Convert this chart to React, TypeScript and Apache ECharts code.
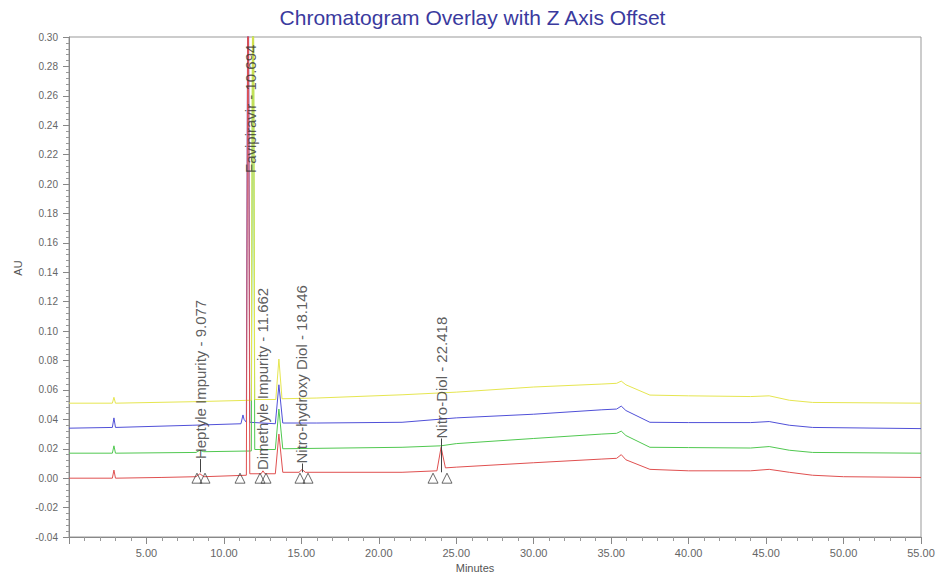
import React, { useEffect, useRef } from "react";
import * as echarts from "echarts";

const titleText = "Chromatogram Overlay with Z Axis Offset";

// [minutes, AU]
const redTrace: [number, number][] = [
  [0, 0.0], [2.8, 0.0], [2.9, 0.0055], [3.0, 0.0], [6.0, 0.0005], [8.2, 0.001], [8.45, 0.003], [8.7, 0.001],
  [11.45, 0.002], [11.56, 0.4], [11.67, 0.003], [12.4, 0.003], [12.52, 0.005], [12.65, 0.003],
  [13.32, 0.003], [13.55, 0.03], [13.8, 0.004], [14.85, 0.004], [15.05, 0.006], [15.25, 0.004],
  [21.5, 0.004], [23.75, 0.005], [24.02, 0.021], [24.3, 0.007], [25.0, 0.0075], [30.0, 0.0105],
  [34.4, 0.013], [35.35, 0.0135], [35.65, 0.016], [35.95, 0.0125], [37.5, 0.006], [40.0, 0.005],
  [44.0, 0.005], [45.2, 0.006], [46.5, 0.004], [48.0, 0.002], [50.0, 0.001], [55.0, 0.0005],
];
const greenTrace: [number, number][] = [
  [0, 0.017], [2.8, 0.017], [2.9, 0.022], [3.0, 0.017], [8.2, 0.0175], [8.45, 0.019], [8.7, 0.018],
  [11.77, 0.0185], [11.88, 0.42], [11.99, 0.0195], [13.32, 0.0195], [13.55, 0.047], [13.8, 0.02],
  [21.5, 0.021], [24.0, 0.022], [25.0, 0.0235], [30.0, 0.027], [34.4, 0.03], [35.35, 0.0305],
  [35.65, 0.032], [35.95, 0.029], [37.5, 0.021], [40.0, 0.0208], [44.0, 0.0205], [45.2, 0.0215],
  [46.5, 0.019], [48.0, 0.0175], [55.0, 0.017],
];
const blueTrace: [number, number][] = [
  [0, 0.034], [2.8, 0.0345], [2.9, 0.041], [3.0, 0.0345], [8.0, 0.036], [11.1, 0.037], [11.23, 0.043],
  [11.3, 0.04], [11.45, 0.038], [11.56, 0.43], [11.67, 0.038], [13.32, 0.037], [13.55, 0.0635],
  [13.8, 0.0375], [16.0, 0.0375], [21.5, 0.038], [25.0, 0.041], [30.0, 0.0435], [34.4, 0.0465],
  [35.35, 0.047], [35.65, 0.049], [35.95, 0.046], [37.5, 0.038], [40.0, 0.0378], [44.0, 0.0378],
  [45.2, 0.0385], [46.5, 0.036], [48.0, 0.0345], [55.0, 0.0337],
];
const yellowTrace: [number, number][] = [
  [0, 0.051], [2.8, 0.051], [2.9, 0.055], [3.0, 0.051], [8.0, 0.052], [11.77, 0.053], [11.88, 0.44],
  [11.99, 0.0535], [13.35, 0.0535], [13.55, 0.081], [13.75, 0.054], [16.0, 0.0545], [21.5, 0.0567],
  [25.0, 0.0585], [30.0, 0.062], [34.4, 0.064], [35.35, 0.0645], [35.65, 0.066], [35.95, 0.0635],
  [37.5, 0.0565], [40.0, 0.056], [44.0, 0.0555], [45.2, 0.056], [46.5, 0.053], [48.0, 0.0515],
  [55.0, 0.051],
];

const peakNames = [
  "Heptyle Impurity - 9.077",
  "Favipiravir - 10.694",
  "Dimethyle Impurity - 11.662",
  "Nitro-hydroxy Diol - 18.146",
  "Nitro-Diol - 22.418",
];
const peakLabelTimes = [8.46, 11.72, 12.52, 15.04, 24.02];
const peakLabelLevels = [0.013, 0.2075, 0.0055, 0.01, 0.027];
const connectorStart = 0.004;

const triangleTimes = [8.26, 8.78, 11.04, 12.33, 12.72, 14.91, 15.43, 23.5, 24.4];
const triangleLevel = 0.0;

const traceNames = ["blue", "green", "yellow", "red"];
const traceColors = ["#5050d8", "#50c850", "#e6e650", "#e05050"];

export default function App() {
  const ref = useRef<HTMLDivElement>(null);
  useEffect(() => {
    if (!ref.current) return;
    const chart = echarts.init(ref.current, undefined, { renderer: "svg" });
    const font = "Arial, 'Liberation Sans', sans-serif";
    const traces = [blueTrace, greenTrace, yellowTrace, redTrace];
    chart.setOption({
      animation: false,
      backgroundColor: "#ffffff",
      title: {
        text: titleText,
        left: "center",
        top: 2,
        textStyle: { fontFamily: font, fontSize: 21, fontWeight: "normal", color: "#3a3a9e" },
      },
      grid: {
        left: 69,
        right: 24,
        top: 37,
        bottom: 37,
        show: true,
        borderColor: "#999",
        borderWidth: 1,
        outerBoundsMode: "none",
        containLabel: false,
      },
      xAxis: {
        type: "value",
        min: 0,
        max: 55,
        interval: 5,
        name: "Minutes",
        nameLocation: "middle",
        nameGap: 20,
        nameTextStyle: { fontFamily: font, fontSize: 11, color: "#555", padding: [0, 40, 0, 0] },
        axisLine: { show: true, onZero: false, lineStyle: { color: "#888" } },
        axisTick: { show: true, length: 7, lineStyle: { color: "#888" } },
        minorTick: { show: true, splitNumber: 5, length: 4, lineStyle: { color: "#999" } },
        axisLabel: {
          fontFamily: font,
          fontSize: 11,
          color: "#666",
          margin: 10,
          formatter: (v: number) => (v === 0 ? "" : v.toFixed(2)),
        },
        splitLine: { show: false },
      },
      yAxis: {
        type: "value",
        min: -0.04,
        max: 0.3,
        interval: 0.02,
        name: "AU",
        nameLocation: "middle",
        nameRotate: 90,
        nameGap: 46,
        nameTextStyle: { fontFamily: font, fontSize: 11, color: "#555", padding: [0, 0, 0, 38] },
        axisLine: { show: true, onZero: false, lineStyle: { color: "#888" } },
        axisTick: { show: true, length: 6, lineStyle: { color: "#888" } },
        minorTick: { show: true, splitNumber: 5, length: 3, lineStyle: { color: "#999" } },
        axisLabel: {
          fontFamily: font,
          fontSize: 10,
          color: "#666",
          margin: 11,
          formatter: (v: number) => v.toFixed(2),
        },
        splitLine: { show: false },
      },
      series: [
        ...traces.map((t, i) => ({
          type: "line",
          name: traceNames[i],
          data: t,
          symbol: "none",
          clip: true,
          lineStyle: { color: traceColors[i], width: 1 },
          z: 2,
        })),
        {
          type: "scatter",
          data: triangleTimes.map((t) => [t, triangleLevel]),
          symbol: "triangle",
          symbolSize: [10, 10],
          itemStyle: { color: "rgba(255,255,255,0)", borderColor: "#444", borderWidth: 1 },
          z: 4,
          silent: true,
        },
        {
          type: "scatter",
          symbolSize: 0,
          silent: true,
          z: 5,
          data: peakNames.map((n, i) => ({ name: n, value: [peakLabelTimes[i], peakLabelLevels[i]] })),
          label: {
            show: true,
            formatter: "{b}",
            position: "top",
            distance: 0,
            rotate: 90,
            align: "left",
            verticalAlign: "middle",
            fontFamily: font,
            fontSize: 15,
            color: "#333",
          },
          markLine: {
            silent: true,
            symbol: "none",
            label: { show: false },
            lineStyle: { color: "#444", width: 1, type: "solid" },
            data: peakNames
              .map((_, i) => i)
              .filter((i) => peakLabelLevels[i] > connectorStart + 0.004 && peakLabelLevels[i] < 0.1)
              .map((i) => [
                { coord: [peakLabelTimes[i], connectorStart] },
                { coord: [peakLabelTimes[i], peakLabelLevels[i]] },
              ]),
          },
        },
      ],
    });
    return () => chart.dispose();
  }, []);
  return (
    <div
      ref={ref}
      style={{ position: "absolute", left: 0, top: 0, width: 945, height: 574 }}
    />
  );
}
